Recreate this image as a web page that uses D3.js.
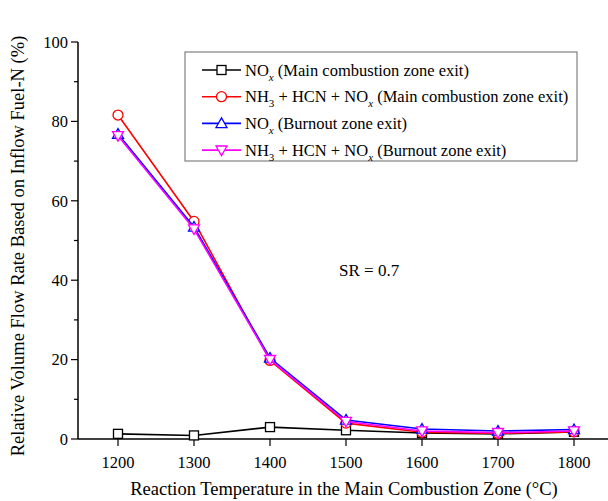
<!DOCTYPE html>
<html>
<head>
<meta charset="utf-8">
<script src="https://cdn.jsdelivr.net/npm/d3@7"></script>
<style>
  html, body { margin: 0; padding: 0; background: #fff; }
  svg { display: block; font-family: "Liberation Serif", "Times New Roman", serif; }
</style>
</head>
<body>
<svg id="chart" width="608" height="501"></svg>
<script>
// Reaction temperature in the main combustion zone (°C)
const temperatures = [1200, 1300, 1400, 1500, 1600, 1700, 1800];

// Relative volume flow rate based on inflow fuel-N (%)
const noxMain      = [1.3, 0.9, 3.0, 2.2, 1.5, 1.3, 1.8];
const totalNMain   = [81.6, 54.8, 19.8, 4.0, 1.7, 1.4, 1.8];
const noxBurnout   = [76.8, 53.4, 20.4, 4.8, 2.5, 2.0, 2.4];
const totalNBurnout = [76.4, 52.9, 20.0, 4.4, 2.0, 1.6, 2.0];

const xTicks = [1200, 1300, 1400, 1500, 1600, 1700, 1800];
const yTicks = [0, 20, 40, 60, 80, 100];

const series = [
  { key: "noxMain",  values: noxMain,  color: "#000000", marker: "square",
    label: [["NO", ""], ["x", "sub-i"], [" (Main combustion zone exit)", ""]] },
  { key: "totMain",  values: totalNMain, color: "#ff0000", marker: "circle",
    label: [["NH", ""], ["3", "sub"], [" + HCN + NO", ""], ["x", "sub-i"], [" (Main combustion zone exit)", ""]] },
  { key: "noxBurn",  values: noxBurnout, color: "#0000ff", marker: "up",
    label: [["NO", ""], ["x", "sub-i"], [" (Burnout zone exit)", ""]] },
  { key: "totBurn",  values: totalNBurnout, color: "#ff00ff", marker: "down",
    label: [["NH", ""], ["3", "sub"], [" + HCN + NO", ""], ["x", "sub-i"], [" (Burnout zone exit)", ""]] }
];

const svg = d3.select("#chart");

const x = d3.scaleLinear().domain([1200, 1800]).range([118, 574]);
const y = d3.scaleLinear().domain([0, 100]).range([439, 42]);
const axisLeftX = 78;

// y axis with major (20) and minor (10) ticks
const yAxis = svg.append("g").attr("transform", `translate(${axisLeftX},0)`);
yAxis.append("line").attr("x1", 0).attr("x2", 0).attr("y1", y(0)).attr("y2", y(100))
  .attr("stroke", "#000").attr("stroke-width", 1.5);
d3.range(0, 101, 10).forEach(v => {
  const major = v % 20 === 0;
  yAxis.append("line").attr("x1", 0).attr("x2", major ? -7 : -4)
    .attr("y1", y(v)).attr("y2", y(v)).attr("stroke", "#000").attr("stroke-width", 1.2);
});
yAxis.selectAll("text.tick").data(yTicks).join("text")
  .attr("class", "tick")
  .attr("x", -10).attr("y", d => y(d)).attr("dy", "0.35em")
  .attr("text-anchor", "end").attr("font-size", 16.5).text(d => d);

// x axis
const xAxis = svg.append("g");
xAxis.append("line").attr("x1", axisLeftX).attr("x2", 608).attr("y1", y(0)).attr("y2", y(0))
  .attr("stroke", "#000").attr("stroke-width", 1.5);
xAxis.selectAll("line.tick").data(xTicks).join("line")
  .attr("class", "tick")
  .attr("x1", d => x(d)).attr("x2", d => x(d)).attr("y1", y(0)).attr("y2", y(0) + 7)
  .attr("stroke", "#000").attr("stroke-width", 1.2);
xAxis.selectAll("text.tick").data(xTicks).join("text")
  .attr("class", "tick")
  .attr("x", d => x(d)).attr("y", y(0) + 29)
  .attr("text-anchor", "middle").attr("font-size", 16.5).text(d => d);

// axis titles
svg.append("text").attr("x", 344).attr("y", 495).attr("text-anchor", "middle")
  .attr("font-size", 18.5).text("Reaction Temperature in the Main Combustion Zone (°C)");
svg.append("text").attr("transform", "translate(24,246) rotate(-90)")
  .attr("text-anchor", "middle").attr("font-size", 18.5)
  .text("Relative Volume Flow Rate Based on Inflow Fuel-N (%)");

// annotation
svg.append("text").attr("x", 339).attr("y", 276).attr("font-size", 17).text("SR = 0.7");

// marker drawing
function drawMarker(g, type, cx, cy, color) {
  if (type === "square") {
    g.append("rect").attr("x", cx - 4.5).attr("y", cy - 4.5).attr("width", 9).attr("height", 9)
      .attr("fill", "#fff").attr("stroke", color).attr("stroke-width", 1.3);
  } else if (type === "circle") {
    g.append("circle").attr("cx", cx).attr("cy", cy).attr("r", 5)
      .attr("fill", "#fff").attr("stroke", color).attr("stroke-width", 1.3);
  } else if (type === "up") {
    const s = 5.5;
    g.append("path").attr("d", `M${cx},${cy - s}L${cx + s},${cy + s * 0.75}L${cx - s},${cy + s * 0.75}Z`)
      .attr("fill", "#fff").attr("stroke", color).attr("stroke-width", 1.3);
  } else if (type === "down") {
    const s = 5.5;
    g.append("path").attr("d", `M${cx},${cy + s}L${cx + s},${cy - s * 0.75}L${cx - s},${cy - s * 0.75}Z`)
      .attr("fill", "#fff").attr("stroke", color).attr("stroke-width", 1.3);
  }
}

const line = d3.line().x(d => x(d.t)).y(d => y(d.v));

series.forEach(s => {
  const pts = temperatures.map((t, i) => ({ t, v: s.values[i] }));
  const g = svg.append("g");
  g.append("path").datum(pts).attr("d", line).attr("fill", "none")
    .attr("stroke", s.color).attr("stroke-width", 1.6);
  pts.forEach(p => drawMarker(g, s.marker, x(p.t), y(p.v), s.color));
});

// legend
const legend = svg.append("g");
legend.append("rect").attr("x", 185).attr("y", 52).attr("width", 392).attr("height", 109)
  .attr("fill", "#fff").attr("stroke", "#808080").attr("stroke-width", 1.2);
series.forEach((s, i) => {
  const ly = 70 + i * 26.7;
  legend.append("line").attr("x1", 202).attr("x2", 241).attr("y1", ly).attr("y2", ly)
    .attr("stroke", s.color).attr("stroke-width", 1.6);
  drawMarker(legend, s.marker, 221.5, ly, s.color);
  const t = legend.append("text").attr("x", 245).attr("y", ly + 5.5).attr("font-size", 16.5);
  s.label.forEach(([txt, style]) => {
    const span = t.append("tspan").text(txt);
    if (style === "sub" || style === "sub-i") {
      span.attr("font-size", 11).attr("dy", 5);
      if (style === "sub-i") span.attr("font-style", "italic");
    } else {
      span.attr("dy", span.node().previousSibling ? -5 : 0);
    }
  });
});
</script>
</body>
</html>
